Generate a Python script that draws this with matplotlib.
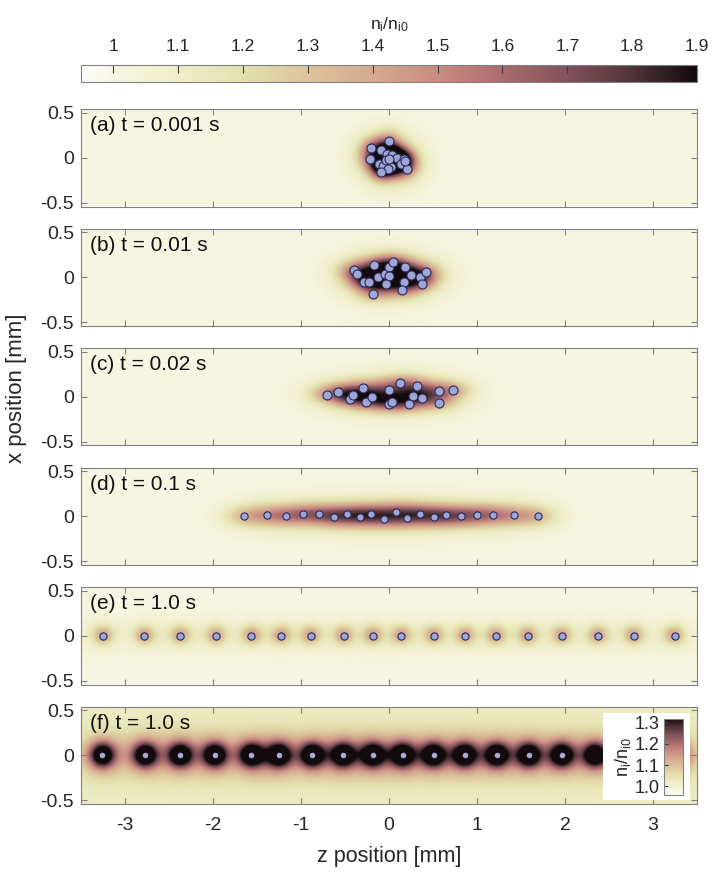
import numpy as np
import matplotlib
matplotlib.use('Agg')
import matplotlib.pyplot as plt
from matplotlib.colors import LinearSegmentedColormap, Normalize
from matplotlib.cm import ScalarMappable

plt.rcParams['font.family'] = ['Liberation Sans', 'DejaVu Sans']
plt.rcParams['axes.unicode_minus'] = False

# ion positions (z, x in mm)
a_z = [0.00, -0.21, -0.09, -0.02, 0.03, 0.09, 0.17, -0.22, -0.11, -0.07, -0.03, 0.02, -0.01, 0.14, 0.21, -0.09, 0.18, 0.00]
a_x = [0.19, 0.11, 0.09, 0.04, 0.03, 0.00, -0.01, -0.01, -0.07, -0.09, -0.03, -0.10, -0.13, -0.07, -0.13, -0.16, -0.04, -0.01]

b_z = [-0.40, -0.36, -0.28, -0.23, -0.17, -0.18, -0.12, -0.05, 0.00, 0.05, 0.00, -0.03, 0.18, 0.25, 0.17, 0.15, 0.35, 0.42, 0.37]
b_x = [0.08, 0.04, -0.05, -0.05, 0.14, -0.18, 0.00, 0.04, 0.11, 0.17, 0.01, -0.07, 0.11, 0.02, -0.05, -0.14, 0.00, 0.06, -0.07]

c_z = [-0.70, -0.58, -0.445, -0.41, -0.30, -0.26, -0.19, 0.00, 0.00, 0.03, 0.13, 0.23, 0.27, 0.32, 0.38, 0.57, 0.57, 0.73]
c_x = [0.015, 0.05, -0.03, 0.015, 0.10, -0.06, 0.00, 0.08, -0.08, -0.06, 0.15, -0.08, 0.01, 0.12, -0.01, 0.06, -0.07, 0.07]

d_z = [-1.648, -1.382, -1.172, -0.974, -0.792, -0.628, -0.476, -0.335, -0.202, -0.057,
       0.084, 0.209, 0.354, 0.506, 0.651, 0.818, 0.997, 1.187, 1.416, 1.690]
d_x = [0.0, 0.01, 0.0, 0.02, 0.02, -0.01, 0.02, -0.01, 0.03, -0.03,
       0.05, -0.02, 0.03, -0.01, 0.01, 0.0, 0.01, 0.01, 0.01, 0.0]

e_z = [-3.254, -2.782, -2.374, -1.971, -1.563, -1.227, -0.891, -0.517, -0.185,
       0.139, 0.510, 0.865, 1.216, 1.578, 1.963, 2.374, 2.785, 3.246]
e_x = [0.0] * 18

f_z = [-3.26, -2.775, -2.374, -1.982, -1.565, -1.252, -0.871, -0.522, -0.183,
       0.156, 0.506, 0.861, 1.226, 1.591, 1.967, 2.347, 2.785, 3.246]
f_x = [0.0] * 18
f_bright = [True] * 15 + [False] + [True, True]

labels = ['(a) t = 0.001 s', '(b) t = 0.01 s', '(c) t = 0.02 s',
          '(d) t = 0.1 s', '(e) t = 1.0 s', '(f) t = 1.0 s']

cmap = LinearSegmentedColormap.from_list('dens', [
    (0.0, '#fefefb'), (0.053, '#f7f6e4'), (0.158, '#efeec9'), (0.263, '#e4e0ae'),
    (0.368, '#dcc49c'), (0.474, '#d4aa8e'), (0.579, '#c98c84'), (0.684, '#aa6d6d'),
    (0.789, '#82525a'), (0.895, '#50343a'), (1.0, '#120a0c')])

zg = np.linspace(-3.5, 3.5, 701)
xg = np.linspace(-0.54, 0.54, 121)
Z, X = np.meshgrid(zg, xg)


def density(zs, xs, amp, sz, sx, amp2, s2z, s2x, base, band=0.0):
    # narrow core plus a broad halo around every ion
    n = base + band * np.exp(-X ** 2 / (2 * 0.1 ** 2))
    for zi, xi in zip(zs, xs):
        dz, dx = Z - zi, X - xi
        n = n + amp * np.exp(-dz ** 2 / (2 * sz ** 2) - dx ** 2 / (2 * sx ** 2))
        n = n + amp2 * np.exp(-dz ** 2 / (2 * s2z ** 2) - dx ** 2 / (2 * s2x ** 2))
    return n


panels = [
    (a_z, a_x, dict(amp=0.20, sz=0.10, sx=0.09, amp2=0.025, s2z=0.22, s2x=0.18, base=1.01), 6.5),
    (b_z, b_x, dict(amp=0.20, sz=0.14, sx=0.08, amp2=0.025, s2z=0.3, s2x=0.16, base=1.01), 6.5),
    (c_z, c_x, dict(amp=0.20, sz=0.16, sx=0.075, amp2=0.025, s2z=0.35, s2x=0.15, base=1.01), 6.5),
    (d_z, d_x, dict(amp=0.22, sz=0.17, sx=0.085, amp2=0.04, s2z=0.3, s2x=0.16, base=1.01), 5.2),
    (e_z, e_x, dict(amp=0.30, sz=0.08, sx=0.075, amp2=0.07, s2z=0.16, s2x=0.15, base=1.01, band=0.04), 5.2),
    (f_z, f_x, dict(amp=0.30, sz=0.1, sx=0.1, amp2=0.09, s2z=0.2, s2x=0.2, base=1.02, band=0.02), 4.0),
]

fig = plt.figure(figsize=(7.19, 8.73), dpi=100)
W, H = 719.0, 873.0
left, width = 81 / W, 616 / W

for i, (zs, xs, kw, ms) in enumerate(panels):
    top = 109 + i * 119.5
    ax = fig.add_axes([left, 1 - (top + 97.5) / H, width, 97.5 / H])
    n = density(zs, xs, **kw)
    if i < 5:
        vmin, vmax = 0.95, 1.9
    else:
        vmin, vmax = 0.96, 1.315
    ax.imshow(n, extent=[-3.5, 3.5, -0.54, 0.54], origin='lower', aspect='auto',
              cmap=cmap, vmin=vmin, vmax=vmax, interpolation='bilinear')
    if i < 5:
        ax.plot(zs, xs, 'o', mfc='#9ea6d8', mec='#2b2b55', mew=0.8, ms=ms)
    else:
        zb = [z for z, b in zip(zs, f_bright) if b]
        xb = [x for x, b in zip(xs, f_bright) if b]
        ax.plot(zb, xb, 'o', mfc='#a4acd8', mec='#a4acd8', mew=0, ms=ms)
    ax.set_xlim(-3.5, 3.5)
    ax.set_ylim(-0.54, 0.54)
    ax.set_xticks([-3, -2, -1, 0, 1, 2, 3])
    ax.set_yticks([-0.5, 0, 0.5])
    ax.set_yticklabels(['-0.5', '0', '0.5'])
    ax.tick_params(direction='in', top=True, right=True, length=4, width=0.8,
                   colors='#808080', labelcolor='#262626', labelsize=14, pad=5)
    ax.tick_params(axis='x', pad=9)
    for s in ax.spines.values():
        s.set_color('#808080')
    if i < 5:
        ax.set_xticklabels([])
    else:
        ax.set_xticklabels(['-3', '-2', '-1', '0', '1', '2', '3'])
        ax.set_xlabel('z position [mm]', fontsize=15.5, color='#262626', labelpad=9)
    ax.text(0.014, 0.83, labels[i], transform=ax.transAxes, fontsize=15,
            va='center', ha='left', color='#111111')

fig.text(17 / W, 1 - 388 / H, 'x position [mm]', rotation=90, fontsize=16,
         ha='center', va='center', color='#262626')

# top colorbar
cax = fig.add_axes([left, 1 - 82 / H, width, 17 / H])
cb = fig.colorbar(ScalarMappable(norm=Normalize(0.95, 1.9), cmap=cmap), cax=cax,
                  orientation='horizontal', ticks=np.arange(1.0, 1.91, 0.1))
cax.xaxis.set_ticks_position('top')
cax.xaxis.set_label_position('top')
cb.set_ticklabels(['1', '1.1', '1.2', '1.3', '1.4', '1.5', '1.6', '1.7', '1.8', '1.9'])
cax.tick_params(direction='in', length=6, width=0.8, colors='#404040',
                labelcolor='#262626', labelsize=12.5, pad=8)
cb.outline.set_edgecolor('#808080')
cb.set_label(r'$\mathregular{n_i/n_{i0}}$', fontsize=12.5, labelpad=7, color='#262626')

# inset colorbar in panel (f)
box = fig.add_axes([603 / W, 1 - 800 / H, 87 / W, 87 / H])
box.set_facecolor('white')
box.set_xticks([])
box.set_yticks([])
for s in box.spines.values():
    s.set_visible(False)
box.set_zorder(5)
icax = fig.add_axes([664 / W, 1 - 795 / H, 19 / W, 76 / H])
icax.set_zorder(6)
icb = fig.colorbar(ScalarMappable(norm=Normalize(0.96, 1.315), cmap=cmap), cax=icax,
                   orientation='vertical', ticks=[1.0, 1.1, 1.2, 1.3])
icax.yaxis.set_ticks_position('left')
icax.yaxis.set_label_position('left')
icb.set_ticklabels(['1.0', '1.1', '1.2', '1.3'])
icax.tick_params(direction='in', length=3, width=0.8, colors='#404040',
                 labelcolor='#262626', labelsize=13, pad=3)
icb.outline.set_edgecolor('#808080')
icb.set_label(r'$\mathregular{n_i/n_{i0}}$', fontsize=13, labelpad=1, color='#262626')

fig.savefig('out.png', dpi=100)
